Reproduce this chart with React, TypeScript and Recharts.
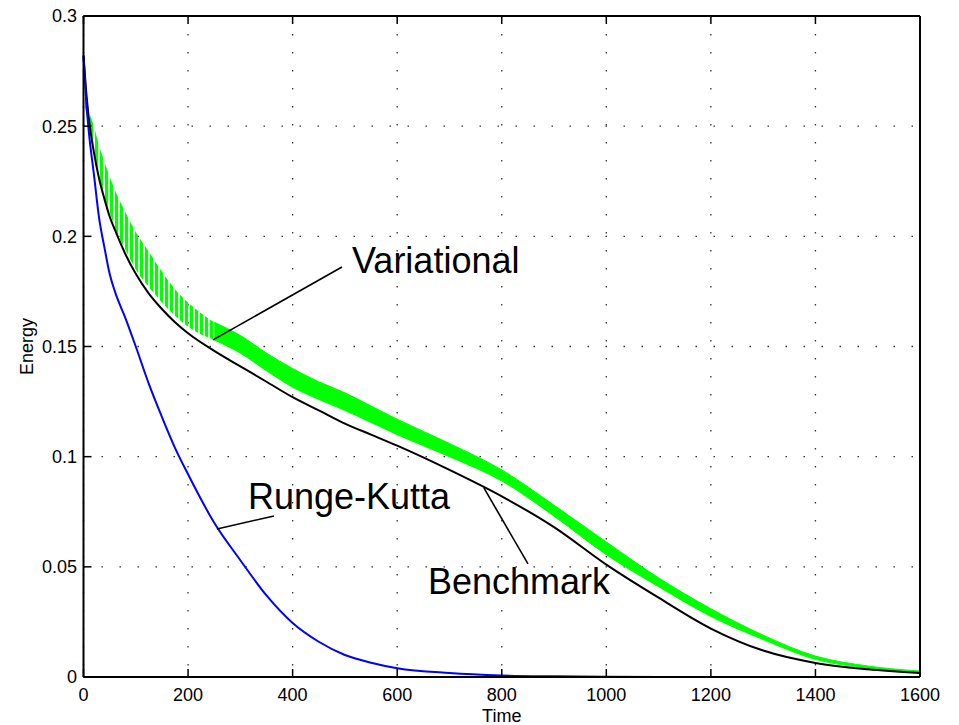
import { ComposedChart, Area, Line, XAxis, YAxis, CartesianGrid, ReferenceLine, ReferenceDot } from "recharts";

// time samples shared by all series
const times = [0, 5, 10, 20, 30, 40, 50, 60, 80, 100, 125, 150, 175, 200, 250, 300, 350, 400, 450, 500, 550, 600, 700, 800, 900, 1000, 1100, 1200, 1300, 1400, 1500, 1600];

const benchmark = [0.282, 0.266, 0.254, 0.238, 0.226, 0.217, 0.209, 0.203, 0.192, 0.183, 0.174, 0.167, 0.161, 0.156, 0.148, 0.141, 0.134, 0.127, 0.121, 0.115, 0.11, 0.105, 0.094, 0.082, 0.068, 0.051, 0.036, 0.022, 0.012, 0.0064, 0.0035, 0.0018];

const rungeKutta = [0.282, 0.262, 0.248, 0.228, 0.208, 0.195, 0.183, 0.175, 0.163, 0.15, 0.133, 0.118, 0.104, 0.092, 0.07, 0.053, 0.037, 0.0245, 0.016, 0.01, 0.0065, 0.004, 0.0018, 0.0007, 0.0003, 0.0001, 0, 0, 0, 0, 0, 0];

const variationalLow = [0.262, 0.256, 0.25, 0.238, 0.227, 0.218, 0.211, 0.204, 0.194, 0.185, 0.177, 0.17, 0.164, 0.159, 0.153, 0.147, 0.139, 0.1315, 0.126, 0.121, 0.1155, 0.11, 0.1, 0.089, 0.073, 0.0555, 0.041, 0.0275, 0.017, 0.008, 0.004, 0.002];
const variationalHigh = [0.274, 0.266, 0.258, 0.25, 0.241, 0.234, 0.227, 0.221, 0.211, 0.202, 0.193, 0.184, 0.176, 0.17, 0.161, 0.155, 0.147, 0.14, 0.134, 0.129, 0.123, 0.117, 0.106, 0.094, 0.078, 0.0613, 0.045, 0.031, 0.019, 0.0095, 0.005, 0.0027];

// the variational band oscillates visibly (comb) until about t = 250
const COMB_END = 250;

const xTicks = [0, 200, 400, 600, 800, 1000, 1200, 1400, 1600];
const yTicks = [0, 0.05, 0.1, 0.15, 0.2, 0.25, 0.3];

const annotations = [
  { text: "Variational", at: { x: 513.6, y: 0.1834 }, from: { x: 247.7, y: 0.153 }, to: { x: 494.4, y: 0.1861 } },
  { text: "Runge-Kutta", at: { x: 314.6, y: 0.0762 }, from: { x: 255.3, y: 0.0672 }, to: { x: 364.4, y: 0.0731 } },
  { text: "Benchmark", at: { x: 658.9, y: 0.0377 }, from: { x: 765.9, y: 0.0858 }, to: { x: 850.2, y: 0.0513 } },
];

const data = times.map((t, i) => ({
  t,
  bench: benchmark[i],
  rk: rungeKutta[i],
  comb: t <= COMB_END ? [variationalLow[i], variationalHigh[i]] : null,
  band: t >= COMB_END ? [variationalLow[i], variationalHigh[i]] : null,
}));

const FONT = "'Liberation Sans', Arial, Helvetica, sans-serif";
const tickFont = { fontSize: 18, fill: "#000", fontFamily: FONT };

export default function App() {
  return (
    <div style={{ position: "absolute", left: 0, top: 0, background: "#fff" }}>
      <ComposedChart width={959} height={725} data={data} margin={{ top: 15, right: 38, bottom: 0, left: 0 }}>
        <defs>
          <pattern id="comb" patternUnits="userSpaceOnUse" width={5} height={10}>
            <rect x={0} y={0} width={3.2} height={10} fill="#00ff00" />
          </pattern>
        </defs>
        <CartesianGrid
          xAxisId="bottom"
          yAxisId="left"
          stroke="#333"
          strokeWidth={1.3}
          strokeDasharray="1.5 16.5"
          horizontalValues={yTicks}
          verticalValues={xTicks}
        />
        <XAxis
          xAxisId="bottom"
          dataKey="t"
          type="number"
          domain={[0, 1600]}
          ticks={xTicks}
          height={48}
          stroke="#000"
          axisLine={{ strokeWidth: 2 }}
          tickLine={{ strokeWidth: 1.5 }}
          tickSize={-8}
          tickMargin={19}
          tick={tickFont}
          label={{
            content: (p: any) => (
              <text x={p.viewBox.x + p.viewBox.width / 2} y={p.viewBox.y + 45} textAnchor="middle" fontSize={18} fontFamily={FONT} fill="#000">
                Time
              </text>
            ),
          }}
        />
        <XAxis
          xAxisId="top"
          orientation="top"
          dataKey="t"
          type="number"
          domain={[0, 1600]}
          ticks={xTicks}
          height={1}
          stroke="#000"
          axisLine={{ strokeWidth: 2 }}
          tickLine={{ strokeWidth: 1.5 }}
          tickSize={-8}
          tickFormatter={() => ""}
        />
        <YAxis
          yAxisId="left"
          type="number"
          domain={[0, 0.3]}
          ticks={yTicks}
          width={83.5}
          stroke="#000"
          axisLine={{ strokeWidth: 2 }}
          tickLine={{ strokeWidth: 1.5 }}
          tickSize={-8}
          tickMargin={14.5}
          tick={tickFont}
          tickFormatter={(v: number) => String(v)}
          label={{
            content: (p: any) => {
              const cx = p.viewBox.x + 27;
              const cy = p.viewBox.y + p.viewBox.height / 2;
              return (
                <text x={cx} y={cy} transform={`rotate(-90 ${cx} ${cy})`} textAnchor="middle" dominantBaseline="central" fontSize={18} fontFamily={FONT} fill="#000">
                  Energy
                </text>
              );
            },
          }}
        />
        <YAxis
          yAxisId="right"
          orientation="right"
          type="number"
          domain={[0, 0.3]}
          ticks={yTicks}
          width={1}
          stroke="#000"
          axisLine={{ strokeWidth: 2 }}
          tickLine={{ strokeWidth: 1.5 }}
          tickSize={-8}
          tickFormatter={() => ""}
        />
        <Area xAxisId="bottom" yAxisId="left" dataKey="comb" type="monotone" stroke="none" fill="url(#comb)" fillOpacity={1} isAnimationActive={false} connectNulls={false} />
        <Area xAxisId="bottom" yAxisId="left" dataKey="band" type="monotone" stroke="#00ff00" strokeWidth={1} fill="#00ff00" fillOpacity={1} isAnimationActive={false} connectNulls={false} />
        <Line xAxisId="bottom" yAxisId="left" dataKey="bench" type="monotone" stroke="#000" strokeWidth={2} dot={false} isAnimationActive={false} />
        <Line xAxisId="bottom" yAxisId="left" dataKey="rk" type="monotone" stroke="#0000ff" strokeWidth={2} dot={false} isAnimationActive={false} />
        {annotations.map((a) => (
          <ReferenceLine
            key={a.text + "-ptr"}
            xAxisId="bottom"
            yAxisId="left"
            segment={[a.from, a.to]}
            stroke="#000"
            strokeWidth={1.6}
          />
        ))}
        {annotations.map((a) => (
          <ReferenceDot
            key={a.text}
            xAxisId="bottom"
            yAxisId="left"
            x={a.at.x}
            y={a.at.y}
            r={0}
            shape={(p: any) => (
              <text x={p.cx} y={p.cy} fontSize={36} fontFamily={FONT} fill="#000">
                {a.text}
              </text>
            )}
          />
        ))}
      </ComposedChart>
    </div>
  );
}
